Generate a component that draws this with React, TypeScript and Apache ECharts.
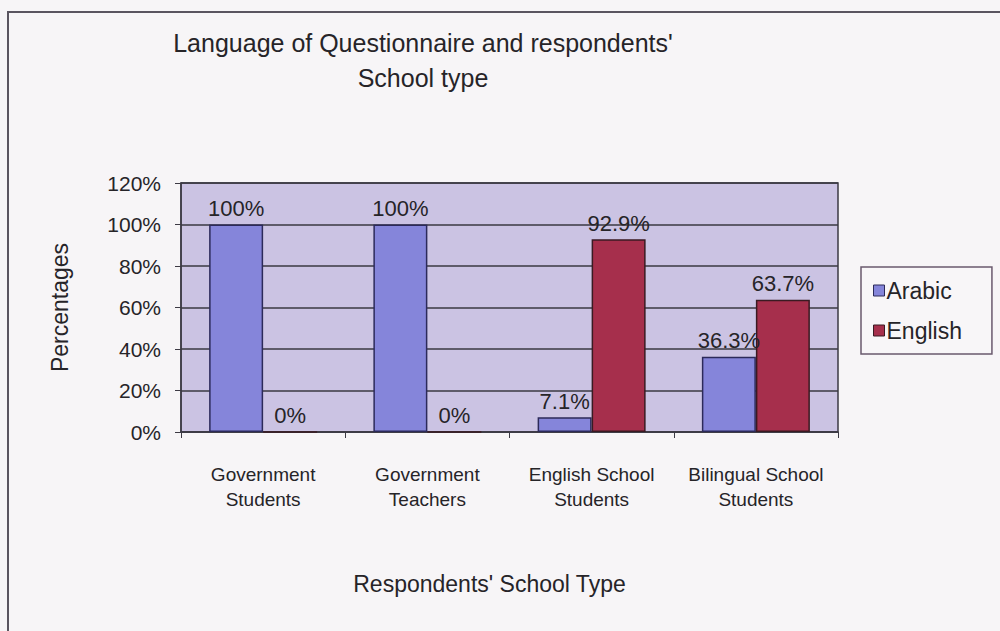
import React, { useEffect, useRef } from "react";
import * as echarts from "echarts";

const categories = [
  "Government\nStudents",
  "Government\nTeachers",
  "English School\nStudents",
  "Bilingual School\nStudents",
];
const arabic = [1.0, 1.0, 0.071, 0.363];
const english = [0.0, 0.0, 0.929, 0.637];
const seriesNames = ["Arabic", "English"];
const titleLines = ["Language of Questionnaire and respondents'", "School type"];
const yAxisName = "Percentages";
const xAxisName = "Respondents' School Type";

const FONT = "'Liberation Sans', Arial, sans-serif";
const TEXT = "#262428";

function pct(v: number): string {
  const r = Math.round(v * 1000) / 10;
  return (Number.isInteger(r) ? r.toFixed(0) : r.toFixed(1)) + "%";
}

export default function App() {
  const ref = useRef<HTMLDivElement>(null);
  useEffect(() => {
    if (!ref.current) return;
    const chart = echarts.init(ref.current, null, { renderer: "svg" });
    const labelCfg = {
      show: true,
      position: "top" as const,
      distance: 5,
      fontFamily: FONT,
      fontSize: 22,
      color: TEXT,
      formatter: (p: any) => pct(p.value),
    };
    chart.setOption({
      animation: false,
      backgroundColor: "#f7f5f7",
      title: {
        text: titleLines.join("\n"),
        left: 418,
        top: 20,
        textAlign: "center",
        textStyle: {
          fontFamily: FONT,
          fontSize: 25,
          fontWeight: "normal",
          color: TEXT,
          lineHeight: 35,
        },
      },
      graphic: [
        {
          type: "rect",
          shape: { x: 8, y: 12, width: 1010, height: 640 },
          style: { fill: "none", stroke: "#5a5560", lineWidth: 2 },
          silent: true,
        },
      ],
      grid: {
        left: 181,
        right: 162,
        top: 183,
        bottom: 199,
        show: true,
        backgroundColor: "#cbc3e3",
        borderColor: "#3c3a44",
        borderWidth: 1.5,
      },
      legend: {
        orient: "vertical",
        left: 861,
        top: 267,
        padding: [12, 30, 12, 12],
        itemGap: 17,
        itemWidth: 11,
        itemHeight: 11,
        icon: "rect",
        borderColor: "#6a5a6e",
        borderWidth: 1.5,
        backgroundColor: "#f8f6f8",
        textStyle: { fontFamily: FONT, fontSize: 23, color: TEXT, padding: [0, 0, 0, -3] },
        data: seriesNames.map((n, i) => ({
          name: n,
          itemStyle: {
            borderColor: i === 0 ? "#2c2a5a" : "#3a1a22",
            borderWidth: 1,
          },
        })),
      },
      xAxis: {
        type: "category",
        data: categories,
        name: xAxisName,
        nameLocation: "middle",
        nameGap: 140,
        nameTextStyle: { fontFamily: FONT, fontSize: 23, color: TEXT, padding: [0, 40, 0, 0] },
        axisLine: { show: true, lineStyle: { color: "#3c3a44", width: 1.5 } },
        axisTick: { show: true, length: 6, lineStyle: { color: "#3c3a44" } },
        axisLabel: {
          fontFamily: FONT,
          fontSize: 19,
          lineHeight: 25,
          color: TEXT,
          margin: 30,
          interval: 0,
        },
      },
      yAxis: {
        type: "value",
        min: 0,
        max: 1.2,
        interval: 0.2,
        name: yAxisName,
        nameLocation: "middle",
        nameGap: 110,
        nameTextStyle: { fontFamily: FONT, fontSize: 23, color: TEXT },
        axisLine: { show: true, lineStyle: { color: "#3c3a44", width: 1.5 } },
        axisTick: { show: true, length: 6, lineStyle: { color: "#3c3a44" } },
        splitLine: { show: true, lineStyle: { color: "#3a3842", width: 1.5 } },
        axisLabel: {
          fontFamily: FONT,
          fontSize: 21,
          color: TEXT,
          margin: 20,
          formatter: (v: number) => pct(v),
        },
      },
      series: [
        {
          name: seriesNames[0],
          type: "bar",
          data: arabic,
          barWidth: 54,
          barGap: "0%",
          barCategoryGap: "34%",
          itemStyle: { color: "#8585da", borderColor: "#2c2a5a", borderWidth: 1.5 },
          label: labelCfg,
        },
        {
          name: seriesNames[1],
          type: "bar",
          data: english,
          barWidth: 54,
          barGap: "0%",
          itemStyle: { color: "#a62f4c", borderColor: "#3a1a22", borderWidth: 1.5 },
          label: labelCfg,
        },
      ],
    });
    return () => chart.dispose();
  }, []);
  return (
    <div
      ref={ref}
      style={{ position: "fixed", left: 0, top: 0, width: 1000, height: 631 }}
    />
  );
}
